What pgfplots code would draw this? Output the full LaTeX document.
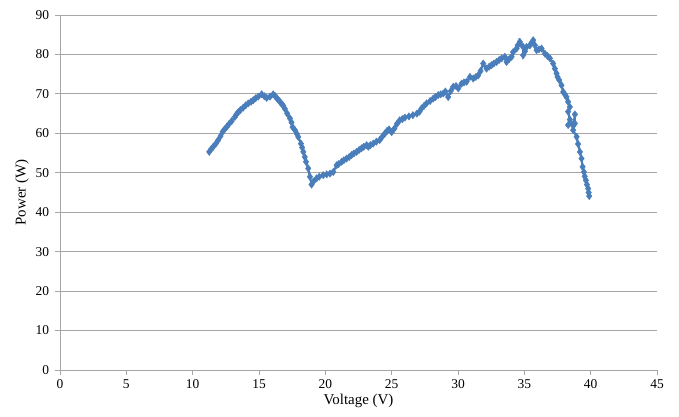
\documentclass[border=0pt]{standalone}
\usepackage{pgfplots}
\pgfplotsset{compat=1.18}
\usepackage{fontspec}
\setmainfont{Liberation Serif}
\definecolor{ser}{HTML}{4A7EBB}
\definecolor{gridc}{HTML}{A6A6A6}
\begin{document}
\begin{tikzpicture}
\begin{axis}[
  scale only axis,
  width=597bp, height=355bp,
  xmin=0, xmax=45, ymin=0, ymax=90,
  xtick={0,5,...,45}, ytick={0,10,...,90},
  axis x line=bottom, axis y line=left,
  axis line style={gridc, line width=0.9pt, -},
  x axis line style={-}, y axis line style={-},
  tick style={gridc, line width=0.9pt},
  tick align=outside,
  major tick length=4.5bp,
  ymajorgrids,
  grid style={gridc, line width=0.9pt},
  tick label style={font=\fontsize{13.5}{15}\selectfont, text=black},
  xticklabel style={yshift=-2bp},
  yticklabel style={xshift=-3bp},
  label style={font=\fontsize{15}{17}\selectfont},
  xlabel={Voltage (V)}, ylabel={Power (W)},
  xlabel style={yshift=2bp},
  ylabel style={yshift=0bp},
  /pgf/number format/assume math mode=true,
  clip=false,
]
\addplot[color=ser, line width=2.2pt, mark=diamond*, mark size=3.6bp, mark options={fill=ser, draw=ser, line width=0.5pt}] coordinates {
(11.25,55.3)(11.4,56.0)(11.55,56.6)(11.75,57.4)(11.93,58.3)(12.1,59.3)(12.26,60.4)(12.4,61.0)(12.56,61.6)(12.75,62.4)(12.94,63.1)(13.19,64.2)(13.3,64.8)(13.44,65.4)(13.6,65.9)(13.81,66.5)(14.0,67.1)(14.19,67.6)(14.4,68.0)(14.57,68.4)(14.75,68.9)(14.94,69.3)(15.2,69.9)(15.4,69.4)(15.58,69.0)(15.83,69.3)(16.07,69.9)(16.2,69.5)(16.33,69.0)(16.45,68.5)(16.58,68.0)(16.7,67.5)(16.83,67.0)(16.95,66.2)(17.13,65.0)(17.33,63.8)(17.45,62.8)(17.53,61.6)(17.71,60.8)(17.85,59.9)(17.96,59.1)(18.16,57.4)(18.25,56.4)(18.34,55.3)(18.45,54.0)(18.54,52.8)(18.71,51.1)(18.84,49.0)(18.96,47.0)(19.1,47.8)(19.34,48.6)(19.54,49.0)(19.84,49.4)(20.1,49.6)(20.35,49.8)(20.6,50.2)(20.85,51.9)(21.0,52.2)(21.23,52.8)(21.4,53.2)(21.6,53.6)(21.8,54.0)(21.98,54.5)(22.15,54.9)(22.36,55.3)(22.55,55.8)(22.73,56.2)(22.9,56.6)(23.11,57.0)(23.24,56.6)(23.4,57.0)(23.61,57.4)(23.85,57.9)(24.1,58.3)(24.3,59.2)(24.5,60.0)(24.65,60.6)(24.8,61.0)(25.0,60.3)(25.2,61.2)(25.4,62.4)(25.6,63.3)(25.8,63.6)(26.0,64.0)(26.3,64.3)(26.6,64.6)(26.9,65.0)(27.1,65.5)(27.25,66.3)(27.45,67.0)(27.63,67.6)(27.9,68.2)(28.13,68.8)(28.3,69.2)(28.51,69.7)(28.7,69.9)(28.89,70.1)(29.05,70.6)(29.26,69.2)(29.45,70.7)(29.64,71.8)(29.85,72.0)(30.02,71.4)(30.27,72.6)(30.45,72.9)(30.65,73.1)(30.9,74.3)(31.15,73.9)(31.35,74.3)(31.52,74.7)(31.7,75.8)(31.9,77.7)(32.15,76.4)(32.35,76.9)(32.53,77.3)(32.7,77.7)(32.91,78.1)(33.1,78.6)(33.29,79.0)(33.53,79.4)(33.66,78.1)(33.85,78.8)(34.04,79.4)(34.16,80.6)(34.42,81.5)(34.5,82.3)(34.66,82.8)(34.66,83.2)(34.91,81.9)(34.91,79.8)(35.05,80.8)(35.17,81.9)(35.42,82.3)(35.55,83.0)(35.67,83.6)(35.8,82.3)(35.92,81.1)(36.1,81.3)(36.3,81.5)(36.55,80.2)(36.75,79.6)(36.93,79.0)(37.17,77.7)(37.3,76.4)(37.43,75.2)(37.5,74.3)(37.63,73.5)(37.8,72.2)(37.93,70.5)(38.05,69.9)(38.18,69.2)(38.3,68.0)(38.43,66.7)(38.3,65.5)(38.43,63.5)(38.3,62.1)(38.6,62.3)(38.81,62.5)(38.81,64.8)(38.7,62.0)(38.68,60.8)(38.94,59.1)(39.05,57.3)(39.19,55.3)(39.31,53.6)(39.39,51.5)(39.49,50.2)(39.55,49.1)(39.64,48.1)(39.72,47.0)(39.81,46.0)(39.85,45.0)(39.89,44.1)
};
\coordinate (sw) at (rel axis cs:0,0);
\coordinate (ne) at (rel axis cs:1,1);
\end{axis}
\pgfresetboundingbox
\path ([shift={(-60bp,-47bp)}]sw) rectangle ([shift={(22bp,15bp)}]ne);
\end{tikzpicture}
\end{document}
